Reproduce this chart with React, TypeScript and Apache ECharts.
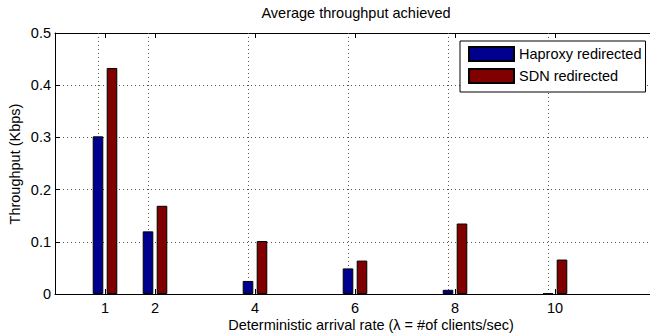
import React, { useEffect, useRef } from "react";
import * as echarts from "echarts";

const categories = [1, 2, 4, 6, 8, 10];
const haproxy = [0.302, 0.12, 0.025, 0.049, 0.008, 0.001];
const sdn = [0.433, 0.169, 0.1015, 0.064, 0.135, 0.066];
const seriesNames = ["Haproxy redirected", "SDN redirected"];
const titleText = "Average throughput achieved";
const xName = "Deterministic arrival rate (\u03bb = #of clients/sec)";
const yName = "Throughput (Kbps)";

const FONT = "'Liberation Sans', Arial, Helvetica, sans-serif";
const FS = 14.5;

export default function App() {
  const ref = useRef<HTMLDivElement>(null);
  useEffect(() => {
    const chart = echarts.init(ref.current!, null, { renderer: "svg" });
    const dotted = { color: "#555", width: 1, type: [1, 3] as any };
    const option: any = {
      animation: false,
      backgroundColor: "#fff",
      textStyle: { fontFamily: FONT },
      grid: { left: 55, top: 33, bottom: 39, right: -5, outerBoundsMode: "none" },
      xAxis: [
        {
          type: "value",
          min: 0,
          max: 12,
          position: "bottom",
          axisLine: { show: true, lineStyle: { color: "#000", width: 1 } },
          axisTick: { show: true, inside: true, length: 5, customValues: categories, lineStyle: { color: "#000" } },
          axisLabel: { show: true, customValues: categories, fontSize: FS, color: "#000", margin: 6, fontFamily: FONT },
          splitLine: { show: false },
        },
        {
          type: "value",
          min: 0,
          max: 12,
          position: "top",
          axisLine: { show: true, lineStyle: { color: "#000", width: 1 } },
          axisTick: { show: true, inside: true, length: 5, customValues: categories, lineStyle: { color: "#000" } },
          axisLabel: { show: false },
          splitLine: { show: false },
        },
      ],
      yAxis: {
        type: "value",
        min: 0,
        max: 0.5,
        interval: 0.1,
        axisLine: { show: true, lineStyle: { color: "#000", width: 1 } },
        axisTick: { show: true, inside: true, length: 5, lineStyle: { color: "#000" } },
        axisLabel: { fontSize: FS, color: "#000", margin: 4, fontFamily: FONT },
        splitLine: { show: true, lineStyle: dotted },
      },
      legend: {
        data: seriesNames,
        orient: "vertical",
        left: 460,
        top: 41,
        icon: "rect",
        itemWidth: 45,
        itemHeight: 14,
        itemGap: 6,
        padding: [5, 4, 8, 8],
        borderColor: "#000",
        borderWidth: 1,
        backgroundColor: "#fff",
        textStyle: { fontSize: FS, color: "#000", fontFamily: FONT, lineHeight: 14 },
      },
      series: [
        {
          name: seriesNames[0],
          type: "bar",
          data: categories.map((c, i) => [c, haproxy[i]]),
          barWidth: 10.6,
          barGap: "32%",
          itemStyle: { color: "#00008F", borderColor: "#000", borderWidth: 1 },
          z: 3,
          markLine: {
            silent: true,
            symbol: "none",
            label: { show: false },
            lineStyle: dotted,
            z: 1,
            data: categories.map((c) => ({ xAxis: c })),
          },
        },
        {
          name: seriesNames[1],
          type: "bar",
          data: categories.map((c, i) => [c, sdn[i]]),
          barWidth: 10.6,
          barGap: "32%",
          itemStyle: { color: "#800000", borderColor: "#000", borderWidth: 1 },
          z: 3,
        },
      ],
      graphic: [
        {
          type: "text",
          x: 356,
          y: 13,
          style: { text: titleText, fontSize: FS, fill: "#000", fontFamily: FONT, textAlign: "center", textVerticalAlign: "middle" },
        },
        {
          type: "text",
          x: 371,
          y: 325,
          style: { text: xName, fontSize: FS, fill: "#000", fontFamily: FONT, textAlign: "center", textVerticalAlign: "middle" },
        },
        {
          type: "text",
          x: 15,
          y: 164,
          rotation: Math.PI / 2,
          style: { text: yName, fontSize: FS, fill: "#000", fontFamily: FONT, textAlign: "center", textVerticalAlign: "middle" },
        },
      ],
    };
    chart.setOption(option);
    return () => chart.dispose();
  }, []);
  return (
    <div
      ref={ref}
      style={{ position: "absolute", left: 0, top: 0, width: 650, height: 333, background: "#fff" }}
    />
  );
}
